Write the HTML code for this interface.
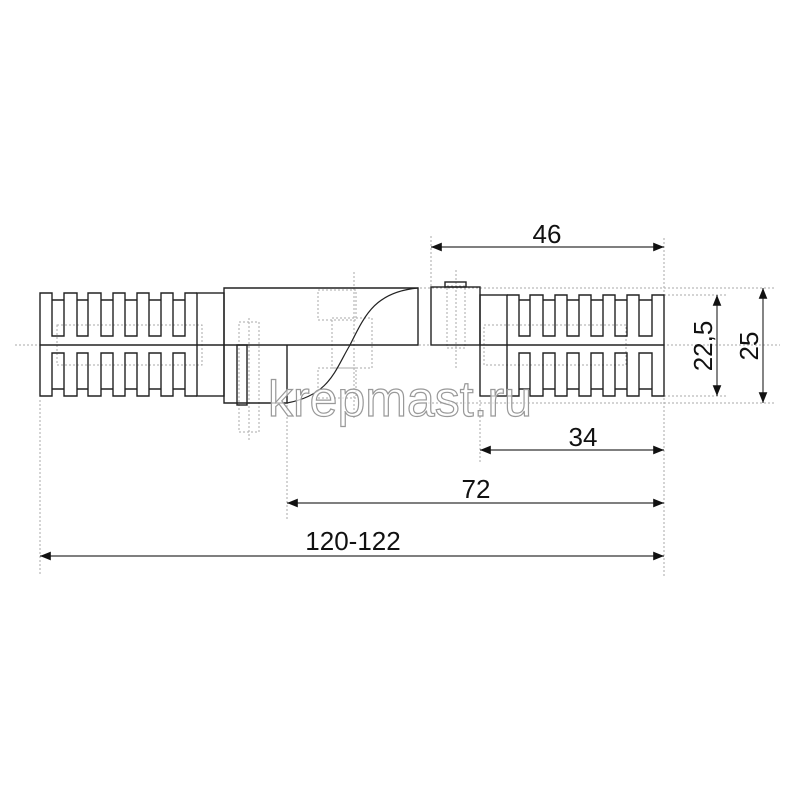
<!DOCTYPE html>
<html><head><meta charset="utf-8"><style>html,body{margin:0;padding:0;background:#fff}svg{display:block}</style></head>
<body>
<svg width="800" height="800" viewBox="0 0 800 800" xmlns="http://www.w3.org/2000/svg" font-family="Liberation Sans, sans-serif">
<defs>
<marker id="a" viewBox="0 0 10 10" refX="10" refY="5" markerWidth="9" markerHeight="9" orient="auto-start-reverse"><path d="M0,1 L10,5 L0,9 z" fill="#111"/></marker>
</defs>
<g stroke="#aaa" stroke-width="1" stroke-dasharray="2,2" fill="none">
<line x1="15" y1="345" x2="780" y2="345"/>
<line x1="40" y1="400" x2="40" y2="575"/>
<line x1="287" y1="405" x2="287" y2="520"/>
<line x1="480" y1="400" x2="480" y2="462"/>
<line x1="664" y1="238" x2="664" y2="578"/>
<line x1="431" y1="236" x2="431" y2="290"/>
<line x1="420" y1="288" x2="775" y2="288"/>
<line x1="420" y1="403" x2="775" y2="403"/>
<line x1="664" y1="295" x2="728" y2="295"/>
<line x1="664" y1="396" x2="728" y2="396"/>
<rect x="57" y="325" width="145" height="40"/>
<rect x="484" y="325" width="142" height="40"/>
<rect x="239" y="322" width="20" height="110"/>
<line x1="249" y1="318" x2="249" y2="440"/>
<rect x="318" y="290" width="38" height="30"/>
<rect x="332" y="318" width="40" height="50"/>
<rect x="318" y="368" width="38" height="30"/>
<line x1="354" y1="272" x2="354" y2="420"/>
<rect x="447" y="286" width="18" height="62"/>
<line x1="456" y1="270" x2="456" y2="370"/>
</g>
<g stroke="#222" stroke-width="1.4" fill="none">
<!-- left comb -->
<path d="M40,345 V293 H52 V336 H64 V293 H77 V336 H88 V293 H101 V336 H113 V293 H125 V336 H137 V293 H149 V336 H161 V293 H173 V336 H185 V293 H197"/>
<path d="M52,300 H64 M77,300 H88 M101,300 H113 M125,300 H137 M149,300 H161 M173,300 H185"/>
<path d="M40,345 V396 H52 V353 H64 V396 H77 V353 H88 V396 H101 V353 H113 V396 H125 V353 H137 V396 H149 V353 H161 V396 H173 V353 H185 V396 H197"/>
<path d="M52,389 H64 M77,389 H88 M101,389 H113 M125,389 H137 M149,389 H161 M173,389 H185"/>
<line x1="40" y1="345" x2="224" y2="345"/>
<rect x="197" y="293" width="27" height="103"/>
<path d="M224,345 V288 H418 V345 H224"/>
<path d="M224,345 V403 H287 V345"/>
<rect x="237" y="345" width="10" height="60"/>
<path d="M287,403 C330,395 335,370 350,345 C365,315 375,292 418,288" stroke-width="1.2"/>
<rect x="431" y="287" width="49" height="58"/>
<rect x="445" y="282" width="21" height="5"/>
<rect x="480" y="295" width="27" height="101"/>
<line x1="480" y1="345" x2="664" y2="345"/>
<!-- right comb -->
<path d="M507,295 H519 V336 H530 V295 H543 V336 H555 V295 H567 V336 H579 V295 H591 V336 H603 V295 H615 V336 H627 V295 H639 V336 H652 V295 H664 V345"/>
<path d="M519,300 H530 M543,300 H555 M567,300 H579 M591,300 H603 M615,300 H627 M639,300 H652"/>
<path d="M507,396 H519 V353 H530 V396 H543 V353 H555 V396 H567 V353 H579 V396 H591 V353 H603 V396 H615 V353 H627 V396 H639 V353 H652 V396 H664 V345"/>
<path d="M519,389 H530 M543,389 H555 M567,389 H579 M591,389 H603 M615,389 H627 M639,389 H652"/>
</g>
<g stroke="#333" stroke-width="1.2" marker-start="url(#a)" marker-end="url(#a)">
<line x1="431" y1="247" x2="664" y2="247"/>
<line x1="480" y1="450" x2="664" y2="450"/>
<line x1="287" y1="503" x2="664" y2="503"/>
<line x1="40" y1="556" x2="664" y2="556"/>
<line x1="717" y1="295" x2="717" y2="396"/>
<line x1="763" y1="288" x2="763" y2="403"/>
</g>
<g fill="#111" font-size="26" text-anchor="middle">
<text x="547" y="243">46</text>
<text x="583" y="446">34</text>
<text x="476" y="498">72</text>
<text x="353" y="550">120-122</text>
<text transform="translate(712,346) rotate(-90)">22,5</text>
<text transform="translate(758,346) rotate(-90)">25</text>
</g>
<text x="400" y="416" font-size="50" text-anchor="middle" fill="#fff" fill-opacity="0.7" stroke="#999" stroke-width="1.2">krepmast.ru</text>
</svg>
</body></html>
